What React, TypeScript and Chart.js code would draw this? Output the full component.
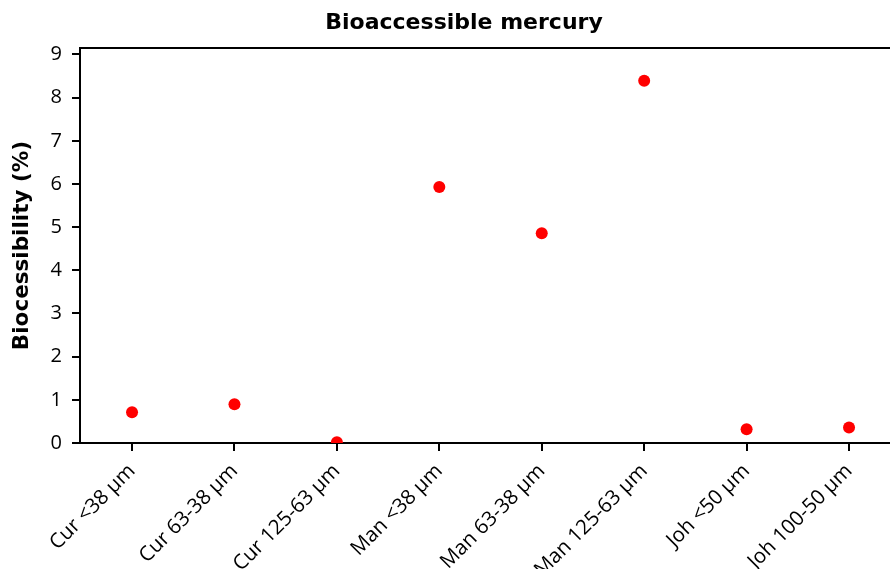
import React, { useEffect, useRef } from "react";
import { Chart, registerables } from "chart.js";

Chart.register(...registerables);

const categories = [
  "Cur <38 µm",
  "Cur 63-38 µm",
  "Cur 125-63 µm",
  "Man <38 µm",
  "Man 63-38 µm",
  "Man 125-63 µm",
  "Joh <50 µm",
  "Joh 100-50 µm",
];
const bioaccessibility = [0.71, 0.9, 0.02, 5.93, 4.86, 8.39, 0.32, 0.36];
const yTicks = [0, 1, 2, 3, 4, 5, 6, 7, 8, 9];
const xTicks = [0, 1, 2, 3, 4, 5, 6, 7];

const topFrame = {
  id: "topFrame",
  afterDraw(chart: any) {
    const { ctx, chartArea } = chart;
    ctx.save();
    ctx.strokeStyle = "#000";
    ctx.lineWidth = 2;
    ctx.beginPath();
    ctx.moveTo(chartArea.left - 1, chartArea.top);
    ctx.lineTo(chartArea.right, chartArea.top);
    ctx.stroke();
    ctx.restore();
  },
};

export default function App() {
  const ref = useRef<HTMLCanvasElement>(null);
  useEffect(() => {
    document.body.style.margin = "0";
    const chart = new Chart(ref.current!, {
      type: "scatter",
      data: {
        datasets: [
          {
            label: "Bioaccessible mercury",
            data: bioaccessibility.map((v, i) => ({ x: i, y: v })),
            backgroundColor: "#ff0000",
            borderColor: "#ff0000",
            borderWidth: 0,
            pointRadius: 6,
            pointHoverRadius: 6,
          },
        ],
      },
      options: {
        responsive: false,
        animation: false,
        layout: {
          autoPadding: false,
          padding: { left: 0, right: -38, top: 0, bottom: 0 },
        },
        plugins: {
          legend: { display: false },
          tooltip: { enabled: false },
          title: {
            display: true,
            text: "Bioaccessible mercury",
            color: "#000",
            font: { family: "DejaVu Sans", size: 22, weight: "bold" },
            padding: { top: 10, bottom: 11.6 },
          },
        },
        scales: {
          x: {
            type: "linear",
            min: -0.508,
            max: 7.4,
            z: 1,
            afterFit: (s: any) => {
              s.height = 126;
              s.paddingRight = 0;
              s.paddingLeft = 0;
            },
            afterBuildTicks: (s: any) => {
              s.ticks = xTicks.map((v) => ({ value: v }));
            },
            grid: {
              display: true,
              drawOnChartArea: false,
              drawTicks: true,
              tickLength: 8,
              color: "#000",
              lineWidth: 2,
            },
            border: { display: true, color: "#000", width: 2 },
            ticks: {
              autoSkip: false,
              minRotation: 45,
              maxRotation: 45,
              padding: 8,
              color: "#000",
              font: { family: "Open Sans", size: 20.5 },
              callback: (v: any) => categories[v as number],
            },
          },
          y: {
            type: "linear",
            min: 0,
            max: 9.15,
            z: 1,
            afterFit: (s: any) => {
              s.width = 80;
            },
            afterBuildTicks: (s: any) => {
              s.ticks = yTicks.map((v) => ({ value: v }));
            },
            grid: {
              display: true,
              drawOnChartArea: false,
              drawTicks: true,
              tickLength: 8,
              color: "#000",
              lineWidth: 2,
            },
            border: { display: true, color: "#000", width: 2 },
            ticks: {
              padding: 10,
              color: "#000",
              font: { family: "Open Sans", size: 20 },
            },
            title: {
              display: true,
              text: "Biocessibility (%)",
              color: "#000",
              font: { family: "DejaVu Sans", size: 21.5, weight: "bold" },
              padding: { top: 10, bottom: 0 },
            },
          },
        },
      },
      plugins: [topFrame],
    });
    return () => chart.destroy();
  }, []);
  return (
    <div style={{ width: 890, height: 569 }}>
      <canvas ref={ref} width={890} height={569} />
    </div>
  );
}
